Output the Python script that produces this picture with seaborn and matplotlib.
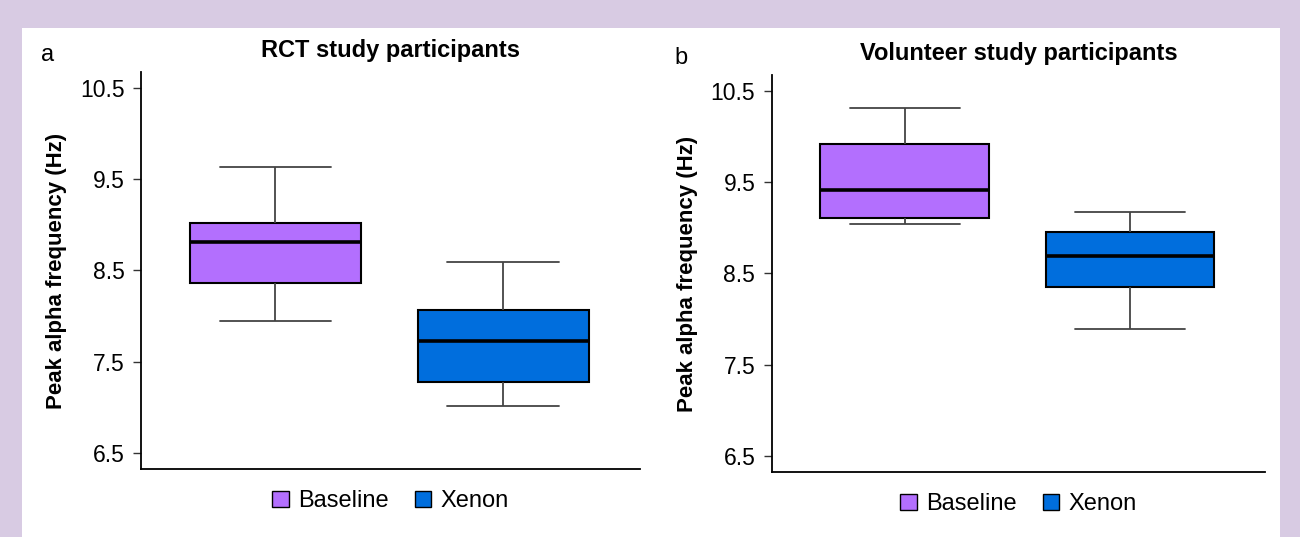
import numpy as np
import pandas as pd
import matplotlib
matplotlib.use("Agg")
import matplotlib.pyplot as plt
from matplotlib.patches import Rectangle, Patch
import seaborn as sns

# five-number summaries: min, q1, median, q3, max
groups = ["Baseline", "Xenon"]
rct_baseline = [7.95, 8.36, 8.81, 9.02, 9.63]
rct_xenon = [7.01, 7.28, 7.73, 8.07, 8.59]
vol_baseline = [9.04, 9.11, 9.41, 9.92, 10.31]
vol_xenon = [7.89, 8.35, 8.69, 8.96, 9.17]

titles = ["RCT study participants", "Volunteer study participants"]
panel_labels = ["a", "b"]
yticks = [6.5, 7.5, 8.5, 9.5, 10.5]
colors = ["#b36ffe", "#006edd"]

sns.set_style("white")
plt.rcParams["font.family"] = ["Liberation Sans", "DejaVu Sans"]
plt.rcParams["text.color"] = "black"
plt.rcParams["axes.labelcolor"] = "black"
plt.rcParams["ytick.color"] = "black"

fig = plt.figure(figsize=(13, 5.37), dpi=100)
fig.patch.set_facecolor("#d8cbe3")
fig.patches.append(Rectangle((22 / 1300, 0), 1258 / 1300, 509 / 537,
                             transform=fig.transFigure, facecolor="white",
                             edgecolor="none", zorder=-10))

ax1 = fig.add_axes([0.1085, 0.1266, 0.3838, 0.7394])
ax2 = fig.add_axes([0.5938, 0.1210, 0.3793, 0.7394])

def make_df(base, xen):
    return pd.DataFrame({"group": [groups[0]] * len(base) + [groups[1]] * len(xen),
                         "value": base + xen})

panels = [make_df(rct_baseline, rct_xenon), make_df(vol_baseline, vol_xenon)]

for ax, df, title in zip([ax1, ax2], panels, titles):
    ax.set_facecolor("none")
    sns.boxplot(data=df, x="group", y="value", hue="group", palette=colors,
                order=groups, hue_order=groups, whis=(0, 100), width=0.75,
                saturation=1, linecolor="black", linewidth=1.5, legend=False, ax=ax,
                medianprops=dict(color="black", linewidth=2.6),
                whiskerprops=dict(color="#444444", linewidth=1.3),
                capprops=dict(color="#444444", linewidth=1.3),
                capwidths=0.49)
    ax.set_xlim(-0.59, 1.6)
    ax.set_ylim(6.325, 10.675)
    ax.set_yticks(yticks)
    ax.set_yticklabels([f"{t:.1f}" for t in yticks], fontsize=16.5, color="black")
    ax.set_xticks([])
    ax.set_xlabel("")
    ax.set_ylabel("Peak alpha frequency (Hz)", fontsize=16, fontweight="bold",
                  labelpad=9, color="black")
    ax.set_title(title, fontsize=17, fontweight="bold", pad=11, color="black")
    for s in ["top", "right"]:
        ax.spines[s].set_visible(False)
    for s in ["left", "bottom"]:
        ax.spines[s].set_color("black")
        ax.spines[s].set_linewidth(1.3)
    ax.tick_params(axis="y", left=True, length=6, width=1, color="#333333", pad=6)
    handles = [Patch(facecolor=c, edgecolor="black", linewidth=1) for c in colors]
    ax.legend(handles, groups, loc="upper center", bbox_to_anchor=(0.5, 0.0),
              ncol=2, frameon=False, fontsize=17, handlelength=0.7,
              handleheight=0.7, handletextpad=0.4, columnspacing=1.1,
              labelcolor="black")

fig.text(48 / 1300, 1 - 55 / 537, panel_labels[0], fontsize=17, va="center", ha="center")
fig.text(681 / 1300, 1 - 58 / 537, panel_labels[1], fontsize=17, va="center", ha="center")

fig.savefig("out.png", dpi=100, facecolor=fig.get_facecolor())
